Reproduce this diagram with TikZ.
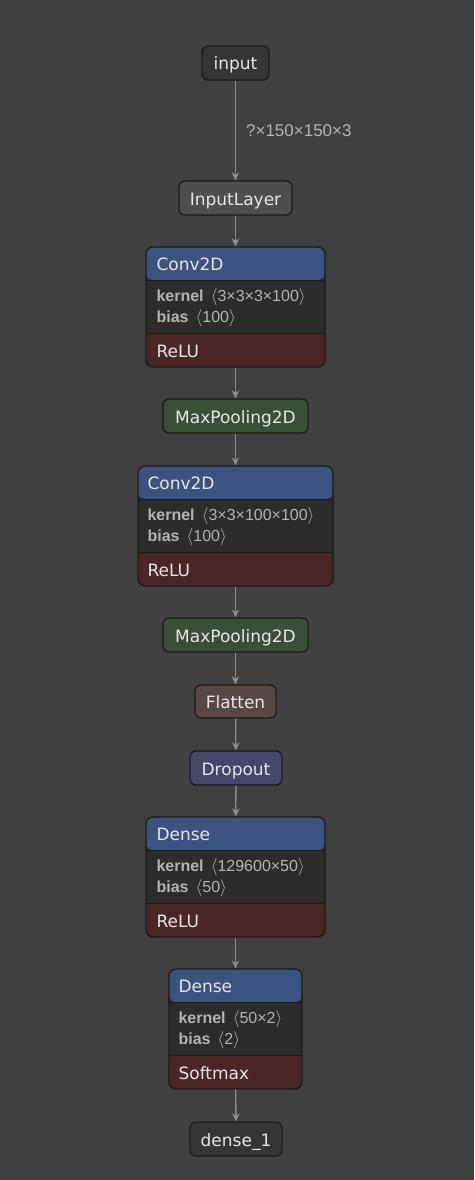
\documentclass[tikz,border=0pt]{standalone}
\usepackage{fontspec}
\setmainfont{DejaVu Sans}
\newfontfamily\attrfamily{Liberation Sans}
\usetikzlibrary{positioning,arrows.meta}

\definecolor{bg}{HTML}{404040}
\definecolor{nodeline}{HTML}{1C1C1C}
\definecolor{inputgrey}{HTML}{353535}
\definecolor{layergrey}{HTML}{4E4E4E}
\definecolor{bodygrey}{HTML}{2C2C2C}
\definecolor{headblue}{HTML}{3C5380}
\definecolor{actred}{HTML}{4A2724}
\definecolor{poolgreen}{HTML}{3A4F38}
\definecolor{flatbrown}{HTML}{594744}
\definecolor{droppurple}{HTML}{45466A}
\definecolor{edgegrey}{HTML}{8E8E8E}
\definecolor{labeltext}{HTML}{E6E6E6}
\definecolor{attrtext}{HTML}{B4B4B4}

\begin{document}
\begin{tikzpicture}[x=1pt,y=-1pt,>={Stealth[length=8pt,width=7.5pt]}]
  \tikzset{
    op/.style={draw=nodeline,line width=1.3pt,rounded corners=6pt,minimum height=34pt,
      inner sep=0pt,text height=14pt,text depth=0pt,text=labeltext,font=\fontsize{17}{20}\selectfont},
    layer/.style={draw=nodeline,line width=1.3pt,rounded corners=7pt,fill=bodygrey,
      minimum height=120pt,inner sep=0pt,
      path picture={
        \fill[headblue] (path picture bounding box.north west) rectangle
          ([yshift=-33pt]path picture bounding box.north east);
        \fill[actred] ([yshift=34pt]path picture bounding box.south west) rectangle
          (path picture bounding box.south east);
        \draw[nodeline,line width=1pt] ([yshift=-33pt]path picture bounding box.north west)
          -- ([yshift=-33pt]path picture bounding box.north east);
        \draw[nodeline,line width=1pt] ([yshift=34pt]path picture bounding box.south west)
          -- ([yshift=34pt]path picture bounding box.south east);
      }},
    title/.style={anchor=west,inner sep=0pt,text height=14pt,text depth=0pt,text=labeltext,
      font=\fontsize{17}{20}\selectfont},
    attr/.style={anchor=west,inner sep=0pt,text height=12pt,text depth=0pt,text=attrtext,
      font=\attrfamily\fontsize{16}{19}\selectfont},
    edge/.style={->,draw=edgegrey,fill=edgegrey,line width=1.3pt},
    edgelabel/.style={text=attrtext,font=\attrfamily\fontsize{17}{20}\selectfont,inner sep=0pt,
      text height=12pt,text depth=0pt}
  }
  \fill[bg] (0,0) rectangle (474,1180);
  \useasboundingbox (0,0) rectangle (474,1180);

  % input and input layer
  \node[op,fill=inputgrey,minimum width=67pt] (input) at (235.5,63) {input};
  \node[op,fill=layergrey,minimum width=113pt] (inputlayer) at (235.5,198) {InputLayer};

  % first convolution
  \node[layer,minimum width=179pt] (conva) at (235.5,307) {};
  \node[title] (conva-name) at ([xshift=11pt,yshift=-17pt]conva.north west) {Conv2D};
  \node[attr] (conva-kernel) at ([xshift=11pt,yshift=-49pt]conva.north west) {\textbf{kernel}\,\ $\langle$3×3×3×100$\rangle$};
  \node[attr] (conva-bias) at ([xshift=11pt,yshift=-70pt]conva.north west) {\textbf{bias}\,\ $\langle$100$\rangle$};
  \node[title] (conva-act) at ([xshift=11pt,yshift=17pt]conva.south west) {ReLU};

  \node[op,fill=poolgreen,minimum width=145pt] (poola) at (235.5,416) {MaxPooling2D};

  % second convolution
  \node[layer,minimum width=195pt] (convb) at (235.5,526) {};
  \node[title] (convb-name) at ([xshift=10pt,yshift=-17pt]convb.north west) {Conv2D};
  \node[attr] (convb-kernel) at ([xshift=10pt,yshift=-49pt]convb.north west) {\textbf{kernel}\,\ $\langle$3×3×100×100$\rangle$};
  \node[attr] (convb-bias) at ([xshift=10pt,yshift=-70pt]convb.north west) {\textbf{bias}\,\ $\langle$100$\rangle$};
  \node[title] (convb-act) at ([xshift=10pt,yshift=17pt]convb.south west) {ReLU};

  \node[op,fill=poolgreen,minimum width=145pt] (poolb) at (235.5,635) {MaxPooling2D};
  \node[op,fill=flatbrown,minimum width=81pt,minimum height=33pt] (flatten) at (235.5,701.5) {Flatten};
  \node[op,fill=droppurple,minimum width=92pt] (dropout) at (236,768) {Dropout};

  % dense layers
  \node[layer,minimum width=179pt] (densea) at (235.5,877) {};
  \node[title] (densea-name) at ([xshift=11pt,yshift=-17pt]densea.north west) {Dense};
  \node[attr] (densea-kernel) at ([xshift=11pt,yshift=-49pt]densea.north west) {\textbf{kernel}\,\ $\langle$129600×50$\rangle$};
  \node[attr] (densea-bias) at ([xshift=11pt,yshift=-70pt]densea.north west) {\textbf{bias}\,\ $\langle$50$\rangle$};
  \node[title] (densea-act) at ([xshift=11pt,yshift=17pt]densea.south west) {ReLU};

  \node[layer,minimum width=133pt] (denseb) at (235.5,1029) {};
  \node[title] (denseb-name) at ([xshift=10pt,yshift=-17pt]denseb.north west) {Dense};
  \node[attr] (denseb-kernel) at ([xshift=10pt,yshift=-49pt]denseb.north west) {\textbf{kernel}\,\ $\langle$50×2$\rangle$};
  \node[attr] (denseb-bias) at ([xshift=10pt,yshift=-70pt]denseb.north west) {\textbf{bias}\,\ $\langle$2$\rangle$};
  \node[title] (denseb-act) at ([xshift=10pt,yshift=17pt]denseb.south west) {Softmax};

  \node[op,fill=inputgrey,minimum width=92pt] (output) at (236,1139) {dense\_1};

  % connectors
  \draw[edge] (input) -- node[right=10pt,edgelabel] {?×150×150×3} (inputlayer);
  \draw[edge] (inputlayer) -- (conva);
  \draw[edge] (conva) -- (poola);
  \draw[edge] (poola) -- (convb);
  \draw[edge] (convb) -- (poolb);
  \draw[edge] (poolb) -- (flatten);
  \draw[edge] (flatten) -- (dropout);
  \draw[edge] (dropout) -- (densea);
  \draw[edge] (densea) -- (denseb);
  \draw[edge] (denseb) -- (output);
\end{tikzpicture}
\end{document}
